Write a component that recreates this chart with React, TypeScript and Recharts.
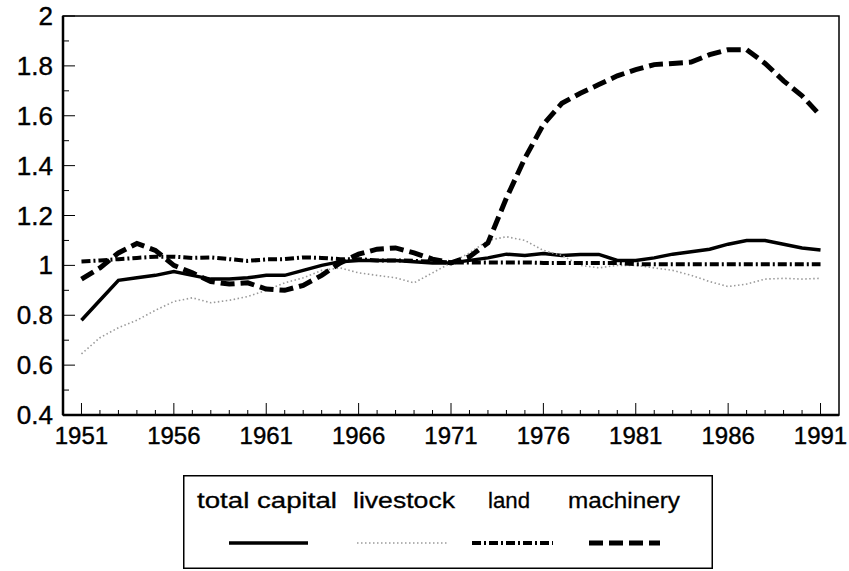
import { LineChart, Line, XAxis, YAxis, ReferenceArea, Legend } from 'recharts'

const years = [
  1951, 1952, 1953, 1954, 1955, 1956, 1957, 1958, 1959, 1960,
  1961, 1962, 1963, 1964, 1965, 1966, 1967, 1968, 1969, 1970,
  1971, 1972, 1973, 1974, 1975, 1976, 1977, 1978, 1979, 1980,
  1981, 1982, 1983, 1984, 1985, 1986, 1987, 1988, 1989, 1990, 1991,
]

const totalCapital = [
  0.78, 0.86, 0.94, 0.95, 0.96, 0.975, 0.96, 0.945, 0.945, 0.95,
  0.96, 0.96, 0.98, 1.0, 1.015, 1.02, 1.02, 1.02, 1.015, 1.01,
  1.01, 1.02, 1.03, 1.045, 1.04, 1.048, 1.04, 1.044, 1.044, 1.02,
  1.02, 1.03, 1.045, 1.055, 1.065, 1.085, 1.1, 1.1, 1.085, 1.07, 1.062,
]

const livestock = [
  0.645, 0.71, 0.75, 0.78, 0.82, 0.855, 0.87, 0.85, 0.86, 0.875,
  0.9, 0.93, 0.95, 0.98, 0.99, 0.97, 0.96, 0.95, 0.93, 0.97,
  1.01, 1.05, 1.1, 1.115, 1.1, 1.06, 1.04, 1.0, 0.99, 1.0,
  1.0, 0.99, 0.98, 0.96, 0.935, 0.915, 0.925, 0.945, 0.948, 0.945, 0.948,
]

const land = [
  1.016, 1.02, 1.025, 1.03, 1.035, 1.035, 1.03, 1.032, 1.025, 1.018,
  1.024, 1.025, 1.032, 1.03, 1.025, 1.025, 1.02, 1.02, 1.018, 1.015,
  1.012, 1.012, 1.012, 1.012, 1.012, 1.01, 1.01, 1.01, 1.01, 1.01,
  1.005, 1.005, 1.005, 1.005, 1.005, 1.005, 1.005, 1.005, 1.005, 1.005, 1.005,
]

const machinery = [
  0.945, 0.99, 1.05, 1.088, 1.06, 1.0, 0.97, 0.935, 0.925, 0.93,
  0.905, 0.9, 0.92, 0.96, 1.01, 1.045, 1.065, 1.07, 1.05, 1.025,
  1.01, 1.035, 1.09, 1.27, 1.43, 1.565, 1.65, 1.69, 1.725, 1.76,
  1.785, 1.805, 1.81, 1.815, 1.845, 1.865, 1.865, 1.81, 1.74, 1.68, 1.6,
]

const yTicks = [0.4, 0.5, 0.6, 0.7, 0.8, 0.9, 1, 1.1, 1.2, 1.3, 1.4, 1.5, 1.6, 1.7, 1.8, 1.9, 2]
const xLabels = [1951, 1956, 1961, 1966, 1971, 1976, 1981, 1986, 1991]

const data = years.map((year, i) => ({
  year,
  total: totalCapital[i],
  livestock: livestock[i],
  land: land[i],
  machinery: machinery[i],
}))

const font = 'Liberation Sans, Arial, sans-serif'

const series = [
  { key: 'total', name: 'total capital', stroke: '#000', width: 3.5, dash: undefined },
  { key: 'livestock', name: 'livestock', stroke: '#9a9a9a', width: 1.6, dash: '1.5 2.5' },
  { key: 'land', name: 'land', stroke: '#000', width: 4, dash: '9 3 2 3' },
  { key: 'machinery', name: 'machinery', stroke: '#000', width: 5, dash: '14 6' },
]

// legend slots inside the box: text centre, text width, sample start/end
const legendSlots = [
  { tx: 84, tw: 140, x1: 46, x2: 125 },
  { tx: 221, tw: 102, x1: 174, x2: 264 },
  { tx: 326, tw: 42, x1: 289, x2: 370 },
  { tx: 441, tw: 112, x1: 406, x2: 477 },
]

const YTick = ({ x, y, payload }: any) => {
  const v = payload.value
  const major = Math.round(v * 10) % 2 === 0
  const label = v === 1 || v === 2 ? String(v) : v.toFixed(1)
  return (
    <g>
      <line x1={x} x2={x + (major ? 12 : 6)} y1={y} y2={y} stroke="#000" strokeWidth={1} />
      {major && (
        <text x={x - 10} y={y} dy={9} textAnchor="end" fontSize={26} fontFamily={font}
          fill="#000" stroke="#000" strokeWidth={0.4}>
          {label}
        </text>
      )}
    </g>
  )
}

const XTick = ({ x, y, payload }: any) => {
  const v = payload.value
  const major = xLabels.includes(v)
  return (
    <g>
      <line x1={x} x2={x} y1={y} y2={y - (major ? 12 : 5)} stroke="#000" strokeWidth={1} />
      {major && (
        <text x={x} y={y + 29} textAnchor="middle" fontSize={24} fontFamily={font}
          fill="#000" stroke="#000" strokeWidth={0.4}>
          {v}
        </text>
      )}
    </g>
  )
}

const LegendBox = () => (
  <svg width={530} height={94} style={{ display: 'block' }}>
    <rect x={0.75} y={0.75} width={528.5} height={92.5} fill="#fff" stroke="#000" strokeWidth={1.5} />
    {legendSlots.map((p, i) => (
      <g key={i}>
        <text
          x={p.tx - p.tw / 2}
          y={33}
          textLength={p.tw}
          lengthAdjust="spacingAndGlyphs"
          fontSize={22}
          fontFamily={font}
          fill="#000"
          stroke="#000"
          strokeWidth={0.3}
        >
          {series[i].name}
        </text>
        <line
          x1={p.x1}
          x2={p.x2}
          y1={68}
          y2={68}
          stroke={series[i].stroke}
          strokeWidth={series[i].width}
          strokeDasharray={series[i].dash}
        />
      </g>
    ))}
  </svg>
)

export default function App() {
  return (
    <div style={{ position: 'absolute', left: 0, top: 0, width: 849, height: 571, background: '#fff' }}>
      <LineChart width={849} height={571} data={data} margin={{ top: 16, right: 10, bottom: 116, left: 8 }}>
        <XAxis
          dataKey="year"
          type="number"
          domain={[1950, 1992]}
          ticks={years}
          interval={0}
          height={40}
          tick={<XTick />}
          tickLine={false}
          tickSize={0}
          tickMargin={0}
          axisLine={{ stroke: '#000', strokeWidth: 2.5 }}
        />
        <YAxis
          type="number"
          domain={[0.4, 2]}
          ticks={yTicks}
          interval={0}
          width={55}
          tick={<YTick />}
          tickLine={false}
          tickSize={0}
          tickMargin={0}
          axisLine={{ stroke: '#000', strokeWidth: 2.5 }}
        />
        <ReferenceArea x1={1950} x2={1992} y1={0.4} y2={2} fill="none" stroke="#000" strokeWidth={1.5} />
        {series.map(s => (
          <Line
            key={s.key}
            dataKey={s.key}
            name={s.name}
            type="linear"
            stroke={s.stroke}
            strokeWidth={s.width}
            strokeDasharray={s.dash}
            dot={false}
            activeDot={false}
            isAnimationActive={false}
          />
        ))}
        <Legend
          layout="horizontal"
          verticalAlign="middle"
          align="center"
          content={<LegendBox />}
          wrapperStyle={{ position: 'absolute', left: 183, top: 475, width: 530, height: 94 }}
        />
      </LineChart>
    </div>
  )
}
